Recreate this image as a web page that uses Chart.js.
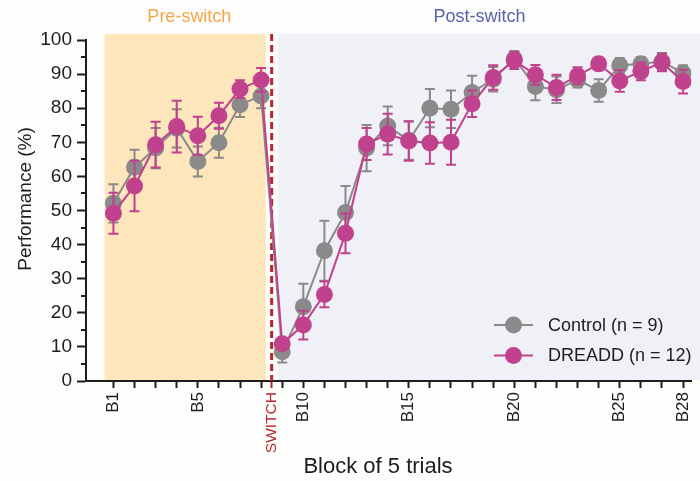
<!DOCTYPE html>
<html>
<head>
<meta charset="utf-8">
<title>Performance per block</title>
<script src="https://cdn.jsdelivr.net/npm/chart.js@4.4.0/dist/chart.umd.min.js"></script>
<style>
  html, body { margin: 0; padding: 0; background: #fdfdfc; }
  #wrap { width: 700px; height: 481px; }
</style>
</head>
<body>
<div id="wrap"><canvas id="chart" width="700" height="481"></canvas></div>
<script>
// Blocks of 5 trials (B1-B8 before the rule switch, B9-B28 after)
const blocks = [1, 2, 3, 4, 5, 6, 7, 8, 9, 10, 11, 12, 13, 14, 15, 16, 17, 18, 19, 20, 21, 22, 23, 24, 25, 26, 27, 28];

// Mean performance (%) and SEM per block
const control    = [52.1, 62.7, 68.3, 74.1, 64.4, 69.9, 81.0, 83.6, 8.6, 21.8, 38.2, 49.4, 68.3, 74.8, 70.5, 80.0, 79.7, 84.6, 88.5, 94.5, 86.4, 85.4, 88.3, 85.2, 92.5, 93.0, 93.7, 90.3];
const controlSem = [5.6, 5.1, 5.9, 5.6, 4.4, 4.4, 3.6, 3.6, 3.2, 6.7, 8.8, 7.8, 6.8, 5.7, 5.6, 5.6, 5.5, 4.9, 3.6, 2.3, 4.1, 3.9, 2.2, 3.3, 2.2, 2.0, 2.5, 2.3];
const dreadd     = [49.2, 57.2, 69.3, 74.6, 71.9, 77.8, 85.6, 88.3, 10.9, 16.4, 25.4, 43.3, 69.5, 72.4, 70.4, 69.8, 70.0, 81.3, 89.0, 94.0, 89.8, 86.1, 89.5, 93.0, 88.0, 90.8, 93.4, 87.8];
const dreaddSem  = [6.0, 7.4, 6.7, 7.6, 5.6, 3.8, 2.6, 3.5, 1.5, 4.2, 3.8, 5.8, 4.7, 6.0, 5.8, 6.1, 6.6, 3.9, 3.6, 2.5, 2.9, 3.7, 2.5, 1.8, 3.2, 2.6, 2.6, 3.5];

// Labelled x ticks
const tickValues = [1, 5, 8.5, 10, 15, 20, 25, 28];
const tickLabels = ['B1', 'B5', 'SWITCH', 'B10', 'B15', 'B20', 'B25', 'B28'];
const switchAt = 8.5;

const seriesNames = ['Control (n = 9)', 'DREADD (n = 12)'];
const phaseNames = ['Pre-switch', 'Post-switch'];

// ---- styling ----
const FONT = "'Liberation Sans', Arial, Helvetica, sans-serif";
const INK = '#1d1d1d';
const GRAY = '#8a8a8a';
const PINK = '#c0418c';
const RED = '#b8262b';
const PHASE_FILL = ['#fde5bc', '#f0f0f7'];
const PHASE_TEXT = ['#f4a64a', '#5a62a8'];
const PHASE_SPAN = [[0.58, 8.22], [8.8, 30]];
const PHASE_LABEL_AT = [4.6, 18.35];

const toPoints = (vals) => blocks.map((b, i) => ({ x: b, y: vals[i] }));

// Background, phase shading and phase captions
const phasePlugin = {
  id: 'phases',
  beforeDraw(chart) {
    const { ctx, chartArea: a, scales: { x } } = chart;
    ctx.save();
    ctx.fillStyle = '#fdfdfc';
    ctx.fillRect(0, 0, chart.width, chart.height);
    const top = a.top - 6, bottom = a.bottom - 1;
    PHASE_SPAN.forEach(([s, e], i) => {
      const x0 = x.getPixelForValue(s);
      const x1 = Math.min(x.getPixelForValue(e), chart.width);
      ctx.fillStyle = PHASE_FILL[i];
      ctx.fillRect(x0, top, x1 - x0, bottom - top);
    });
    ctx.font = `18px ${FONT}`;
    ctx.textAlign = 'center';
    ctx.textBaseline = 'middle';
    phaseNames.forEach((name, i) => {
      ctx.fillStyle = PHASE_TEXT[i];
      ctx.fillText(name, x.getPixelForValue(PHASE_LABEL_AT[i]), 17);
    });
    ctx.restore();
  },
  beforeDatasetsDraw(chart) {
    // dashed switch marker
    const { ctx, chartArea: a, scales: { x } } = chart;
    const px = x.getPixelForValue(switchAt);
    ctx.save();
    ctx.strokeStyle = RED;
    ctx.lineWidth = 3;
    ctx.setLineDash([7, 4]);
    ctx.beginPath();
    ctx.moveTo(px, a.top - 6);
    ctx.lineTo(px, a.bottom);
    ctx.stroke();
    ctx.restore();
  }
};

// SEM whiskers, drawn just beneath each series
const errorBarPlugin = {
  id: 'errorBars',
  beforeDatasetDraw(chart, args) {
    const ds = chart.data.datasets[args.index];
    if (!ds.sem) return;
    const { ctx, scales: { y } } = chart;
    ctx.save();
    ctx.strokeStyle = ds.borderColor;
    ctx.lineWidth = 2;
    args.meta.data.forEach((pt, i) => {
      const v = ds.data[i].y, e = ds.sem[i];
      const yt = y.getPixelForValue(v + e), yb = y.getPixelForValue(v - e);
      ctx.beginPath();
      ctx.moveTo(pt.x, yt); ctx.lineTo(pt.x, yb);
      ctx.moveTo(pt.x - 5, yt); ctx.lineTo(pt.x + 5, yt);
      ctx.moveTo(pt.x - 5, yb); ctx.lineTo(pt.x + 5, yb);
      ctx.stroke();
    });
    ctx.restore();
  }
};

// Minor y ticks, axis titles and the in-plot legend
const overlayPlugin = {
  id: 'overlay',
  afterDraw(chart) {
    const { ctx, chartArea: a, scales: { y } } = chart;
    ctx.save();
    ctx.strokeStyle = INK;
    ctx.lineWidth = 2;
    for (let v = 5; v < 100; v += 10) {
      const py = Math.round(y.getPixelForValue(v));
      ctx.beginPath();
      ctx.moveTo(a.left - 5, py);
      ctx.lineTo(a.left, py);
      ctx.stroke();
    }

    ctx.fillStyle = INK;
    ctx.textAlign = 'center';
    ctx.textBaseline = 'middle';
    ctx.font = `22px ${FONT}`;
    ctx.fillText('Block of 5 trials', 378, 467);
    ctx.save();
    ctx.translate(26, 199);
    ctx.rotate(-Math.PI / 2);
    ctx.font = `19px ${FONT}`;
    ctx.fillText('Performance (%)', 0, 0);
    ctx.restore();

    // legend
    const rows = chart.data.datasets;
    rows.forEach((ds, i) => {
      const cy = 325 + i * 30.5;
      const lx0 = 494, lx1 = 533, mx = 513.5;
      ctx.strokeStyle = ds.borderColor;
      ctx.lineWidth = 2;
      ctx.beginPath();
      ctx.moveTo(lx0, cy); ctx.lineTo(lx1, cy);
      ctx.stroke();
      ctx.fillStyle = ds.backgroundColor;
      ctx.beginPath();
      ctx.arc(mx, cy, 8.5, 0, Math.PI * 2);
      ctx.fill();
      ctx.fillStyle = INK;
      ctx.textAlign = 'left';
      ctx.font = `18px ${FONT}`;
      ctx.fillText(seriesNames[i], 548, cy + 1);
    });
    ctx.restore();
  }
};

new Chart(document.getElementById('chart'), {
  type: 'line',
  data: {
    datasets: [
      {
        label: seriesNames[0],
        data: toPoints(control),
        sem: controlSem,
        borderColor: GRAY,
        backgroundColor: GRAY,
        pointBackgroundColor: GRAY,
        pointBorderWidth: 0,
        pointRadius: 8.5,
        borderWidth: 2,
        tension: 0,
        order: 2
      },
      {
        label: seriesNames[1],
        data: toPoints(dreadd),
        sem: dreaddSem,
        borderColor: PINK,
        backgroundColor: PINK,
        pointBackgroundColor: PINK,
        pointBorderWidth: 0,
        pointRadius: 8.5,
        borderWidth: 2,
        tension: 0,
        order: 1
      }
    ]
  },
  options: {
    responsive: false,
    animation: false,
    events: [],
    layout: { padding: { top: 40, right: 1, left: 0, bottom: 0 } },
    plugins: { legend: { display: false }, tooltip: { enabled: false } },
    scales: {
      x: {
        type: 'linear',
        min: -0.3,
        max: 28.4,
        afterBuildTicks(scale) {
          const vals = blocks.concat([switchAt]).sort((p, q) => p - q);
          scale.ticks = vals.map(v => ({ value: v }));
        },
        afterFit(scale) {
          scale.height = 100;
          scale.paddingLeft = 0;
          scale.paddingRight = 0;
        },
        border: { display: true, color: INK, width: 2 },
        grid: {
          drawOnChartArea: false,
          drawTicks: true,
          tickLength: 7,
          tickWidth: 2,
          tickColor: (c) => (c.tick && c.tick.value === switchAt ? RED : INK)
        },
        ticks: {
          autoSkip: false,
          minRotation: 90,
          maxRotation: 90,
          padding: 4,
          color: (c) => (c.tick && c.tick.value === switchAt ? RED : INK),
          font: (c) => ({ family: FONT, size: c.tick && c.tick.value === switchAt ? 15.5 : 17 }),
          callback(value) {
            const k = tickValues.indexOf(value);
            return k >= 0 ? tickLabels[k] : '';
          }
        }
      },
      y: {
        min: 0,
        max: 100,
        afterFit(scale) {
          scale.width = 86;
          scale.paddingTop = 0;
          scale.paddingBottom = 0;
        },
        border: { display: true, color: INK, width: 2 },
        grid: {
          drawOnChartArea: false,
          drawTicks: true,
          tickLength: 9,
          tickWidth: 2,
          tickColor: INK
        },
        ticks: {
          stepSize: 10,
          padding: 5,
          color: INK,
          font: { family: FONT, size: 19 }
        }
      }
    }
  },
  plugins: [phasePlugin, errorBarPlugin, overlayPlugin]
});
</script>
</body>
</html>
